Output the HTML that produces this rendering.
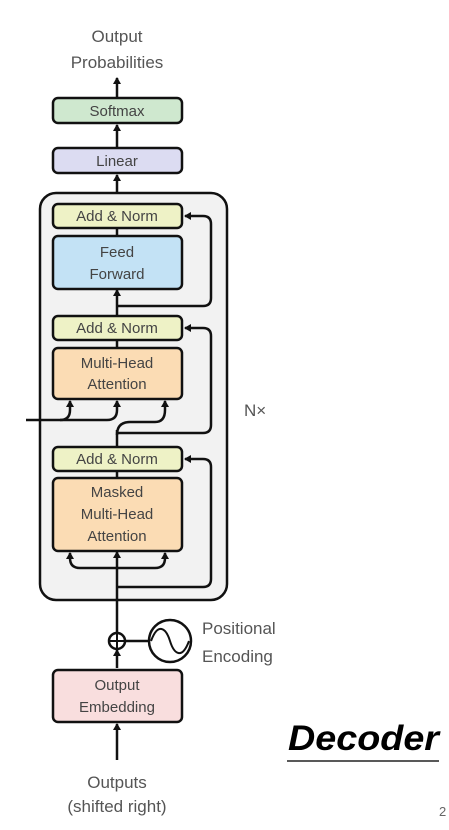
<!DOCTYPE html>
<html><head><meta charset="utf-8"><style>
html,body{margin:0;padding:0;background:#fff;}
svg{display:block;}
text{font-family:"Liberation Sans",sans-serif;}
</style></head><body>
<svg width="449" height="830" viewBox="0 0 449 830" xmlns="http://www.w3.org/2000/svg">
<defs>
<marker id="a" markerWidth="8" markerHeight="8" refX="6" refY="4" orient="auto" markerUnits="userSpaceOnUse">
<path d="M0,0 L7,4 L0,8 Z" fill="#111"/></marker>
</defs>
<g fill="#555" font-size="17" text-anchor="middle">
<text x="117" y="42">Output</text>
<text x="117" y="68">Probabilities</text>
</g>
<g stroke="#111" stroke-width="2.5" fill="none">
<line x1="117" y1="97" x2="117" y2="78" marker-end="url(#a)"/>
<line x1="117" y1="147" x2="117" y2="125" marker-end="url(#a)"/>
<line x1="117" y1="203" x2="117" y2="175" marker-end="url(#a)"/>
</g>
<rect x="40" y="193" width="187" height="407" rx="16" fill="#f2f2f2" stroke="#111" stroke-width="2.5"/>
<g stroke="#111" stroke-width="2.5" fill="none">
<line x1="117" y1="760" x2="117" y2="724" marker-end="url(#a)"/>
<line x1="117" y1="668" x2="117" y2="650" marker-end="url(#a)"/>
<line x1="117" y1="633" x2="117" y2="552" marker-end="url(#a)"/>
<line x1="117" y1="477" x2="117" y2="471"/>
<line x1="117" y1="447" x2="117" y2="430"/>
<line x1="117" y1="348" x2="117" y2="340"/>
<line x1="117" y1="316" x2="117" y2="290" marker-end="url(#a)"/>
<line x1="117" y1="236" x2="117" y2="228"/>
<path d="M117,568 H80 Q70,568 70,558 V553" marker-end="url(#a)"/>
<path d="M117,568 H155 Q165,568 165,558 V553" marker-end="url(#a)"/>
<path d="M117,587 H203 Q211,587 211,579 V467 Q211,459 203,459 H185" marker-end="url(#a)"/>
<path d="M26,420 H60 Q70,420 70,410 V401" marker-end="url(#a)"/>
<path d="M60,420 H107 Q117,420 117,410 V401" marker-end="url(#a)"/>
<path d="M117,435 Q117,422 130,422 H155 Q165,422 165,410 V401" marker-end="url(#a)"/>
<path d="M117,433 H203 Q211,433 211,425 V336 Q211,328 203,328 H185" marker-end="url(#a)"/>
<path d="M117,306 H203 Q211,306 211,298 V224 Q211,216 203,216 H185" marker-end="url(#a)"/>
<line x1="125" y1="641" x2="150" y2="641"/>
</g>
<g stroke="#111" stroke-width="2.5">
<rect x="53" y="98" width="129" height="25" rx="5" fill="#cfe8cf"/>
<rect x="53" y="148" width="129" height="25" rx="5" fill="#dcdcf2"/>
<rect x="53" y="204" width="129" height="24" rx="5" fill="#eef2c6"/>
<rect x="53" y="236" width="129" height="53" rx="5" fill="#c3e2f5"/>
<rect x="53" y="316" width="129" height="24" rx="5" fill="#eef2c6"/>
<rect x="53" y="348" width="129" height="51" rx="5" fill="#fbdcb4"/>
<rect x="53" y="447" width="129" height="24" rx="5" fill="#eef2c6"/>
<rect x="53" y="478" width="129" height="73" rx="5" fill="#fbdcb4"/>
<rect x="53" y="670" width="129" height="52" rx="5" fill="#f9dede"/>
<circle cx="117" cy="641" r="8" fill="#fff"/>
<circle cx="170" cy="641" r="21" fill="#fff"/>
</g>
<g stroke="#111" stroke-width="2" fill="none">
<line x1="109" y1="641" x2="125" y2="641"/><line x1="117" y1="633" x2="117" y2="649"/>
<path d="M151,641 C158,622 166,628 170,641 C174,654 182,660 189,641"/>
</g>
<g fill="#444" font-size="15" text-anchor="middle">
<text x="117" y="116">Softmax</text>
<text x="117" y="166">Linear</text>
<text x="117" y="221">Add &amp; Norm</text>
<text x="117" y="257">Feed</text>
<text x="117" y="279">Forward</text>
<text x="117" y="333">Add &amp; Norm</text>
<text x="117" y="368">Multi-Head</text>
<text x="117" y="389">Attention</text>
<text x="117" y="464">Add &amp; Norm</text>
<text x="117" y="497">Masked</text>
<text x="117" y="519">Multi-Head</text>
<text x="117" y="541">Attention</text>
<text x="117" y="690">Output</text>
<text x="117" y="712">Embedding</text>
</g>
<g fill="#555" font-size="17">
<text x="244" y="416">N×</text>
<text x="202" y="634">Positional</text>
<text x="202" y="662">Encoding</text>
<text x="117" y="788" text-anchor="middle">Outputs</text>
<text x="117" y="812" text-anchor="middle">(shifted right)</text>
</g>
<text x="288" y="750" font-size="35" font-weight="bold" font-style="italic" fill="#000" textLength="151" lengthAdjust="spacingAndGlyphs">Decoder</text>
<line x1="287" y1="761" x2="439" y2="761" stroke="#222" stroke-width="1.5"/>
<text x="439" y="816" font-size="13" fill="#666">2</text>
</svg>
</body></html>
